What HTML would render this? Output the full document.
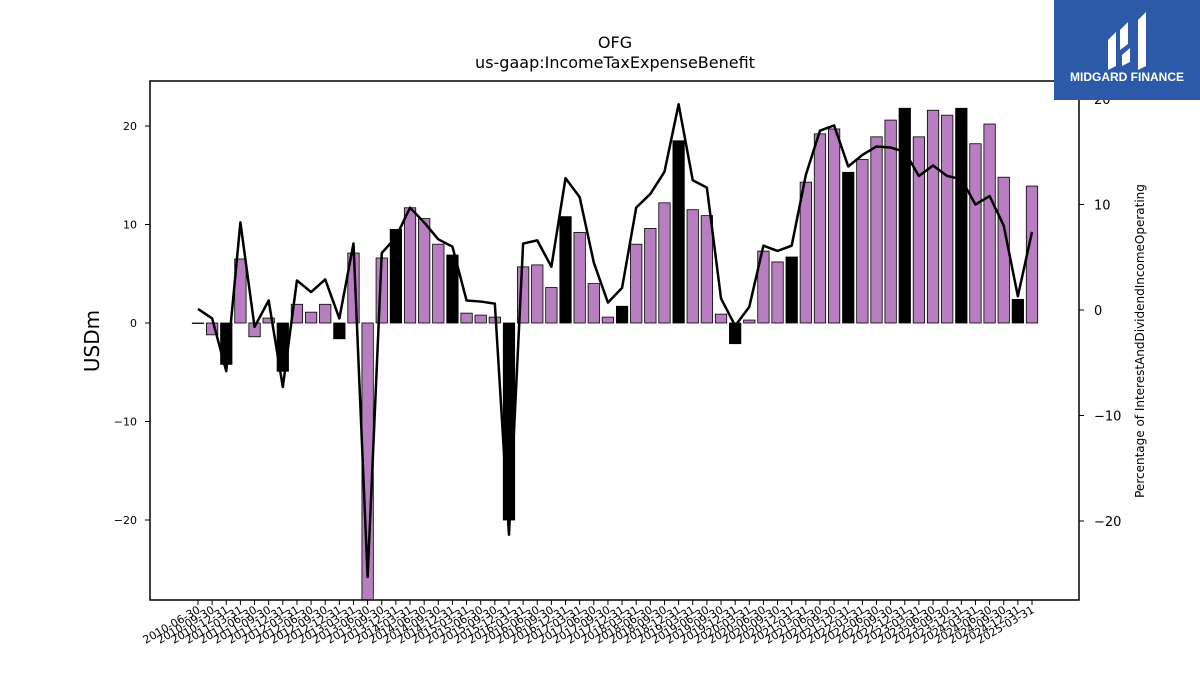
<!DOCTYPE html>
<html><head><meta charset="utf-8"><style>
body{margin:0;background:#fff;width:1200px;height:675px;overflow:hidden;font-family:"Liberation Sans","DejaVu Sans",sans-serif}
</style></head><body>
<svg id="chart" width="1200" height="675" xmlns="http://www.w3.org/2000/svg" font-family="DejaVu Sans, Liberation Sans, sans-serif">
<text x="615" y="48" text-anchor="middle" font-size="16">OFG</text>
<text x="615" y="68" text-anchor="middle" font-size="16">us-gaap:IncomeTaxExpenseBenefit</text>
<text transform="translate(99,341) rotate(-90)" text-anchor="middle" font-size="20">USDm</text>
<text transform="translate(1144,341) rotate(-90)" text-anchor="middle" font-size="12">Percentage of InterestAndDividendIncomeOperating</text>
<g id="bars"></g><g id="line"></g><g id="axes"></g>
<rect x="150" y="81" width="929" height="519" fill="none" stroke="#000" stroke-width="1.5"/>
<g>
<rect x="1054" y="0" width="146" height="100" fill="#2c5aa8"/>
<path d="M1108 40 L1116 32 L1116 66 L1108 70 Z M1120 30 L1128 22 L1128 44 L1120 50 Z M1122 55 L1130 48 L1130 62 L1122 66 Z M1138 20 L1146 12 L1146 66 L1138 70 Z" fill="#fff"/>
<text x="1127" y="81" text-anchor="middle" font-size="12" font-weight="bold" fill="#fff" font-family="Liberation Sans, sans-serif">MIDGARD FINANCE</text>
</g>
</svg>
<script>
const dates=[];
(function(){const q=['03-31','06-30','09-30','12-31'];let y=2010,k=1;for(let i=0;i<60;i++){dates.push(y+'-'+q[k]);k++;if(k>3){k=0;y++;}}})();
const barValues=[0,-1.2,-4.2,6.5,-1.4,0.5,-4.9,1.9,1.1,1.9,-1.6,7.1,-30,6.6,9.5,11.7,10.6,8.0,6.9,1.0,0.8,0.6,-20,5.7,5.9,3.6,10.8,9.2,4.0,0.6,1.7,8.0,9.6,12.2,18.5,11.5,10.9,0.9,-2.1,0.3,7.3,6.2,6.7,14.3,19.2,19.7,15.3,16.6,18.9,20.6,21.8,18.9,21.6,21.1,21.8,18.2,20.2,14.8,2.4,13.9];
const pctValues=[0.1,-0.8,-5.8,8.3,-1.6,0.9,-7.3,2.8,1.7,2.9,-0.8,6.3,-25.3,5.4,6.9,9.7,8.3,6.7,6.0,0.9,0.8,0.6,-21.3,6.3,6.6,4.1,12.5,10.7,4.5,0.7,2.1,9.7,11.0,13.1,19.5,12.3,11.6,1.1,-1.5,0.3,6.1,5.6,6.1,12.8,17.0,17.5,13.6,14.7,15.5,15.4,15.0,12.7,13.7,12.7,12.4,10.0,10.8,8.0,1.3,7.4];
const leftTicks=[-20,-10,0,10,20];
const rightTicks=[-20,-10,0,10,20];
const NS='http://www.w3.org/2000/svg';
const plotTop=81,plotBot=600,plotLeft=150,plotRight=1079;
const x=i=>198+i*(1032-198)/(dates.length-1);
const yL=v=>323-v*9.85;
const yR=v=>310-v*10.55;
function mk(t,a,p){const e=document.createElementNS(NS,t);for(const k in a)e.setAttribute(k,a[k]);p.appendChild(e);return e;}
const gb=document.getElementById('bars'),gl=document.getElementById('line'),ga=document.getElementById('axes');
barValues.forEach((v,i)=>{
 const y0=yL(0),y1=Math.max(plotTop,Math.min(plotBot,yL(v)));
 const r=mk('rect',{x:x(i)-5.7,y:Math.min(y0,y1),width:11.4,height:Math.max(Math.abs(y1-y0),0.5),fill:(i%4==2)?'#000':'#b77fbf',stroke:'#000','stroke-width':0.8},gb);
 
 
});
const pl=mk('polyline',{points:pctValues.map((v,i)=>x(i)+','+yR(v)).join(' '),fill:'none',stroke:'#000','stroke-width':2.5,'stroke-linejoin':'round'},gl);


leftTicks.forEach(v=>{
 const g=mk('g',{},ga);
 
 
 mk('line',{x1:145,x2:150,y1:yL(v),y2:yL(v),stroke:'#000'},g);
 const t=mk('text',{x:137,y:yL(v)+4,'text-anchor':'end','font-size':11},g);t.textContent=(v<0?'\u2212'+(-v):v);
});
rightTicks.forEach(v=>{
 const g=mk('g',{},ga);
 
 
 mk('line',{x1:1079,x2:1084,y1:yR(v),y2:yR(v),stroke:'#000'},g);
 const t=mk('text',{x:1094,y:yR(v)+5,'font-size':13},g);t.textContent=(v<0?'\u2212'+(-v):v);
});
dates.forEach((d,i)=>{
 const g=mk('g',{},ga);
 
 
 mk('line',{x1:x(i),x2:x(i),y1:600,y2:605,stroke:'#000'},g);
 const t=mk('text',{transform:'translate('+(x(i)+3)+',612) rotate(-30)','text-anchor':'end','font-size':11},g);t.textContent=d;
});
</script>
</body></html>
